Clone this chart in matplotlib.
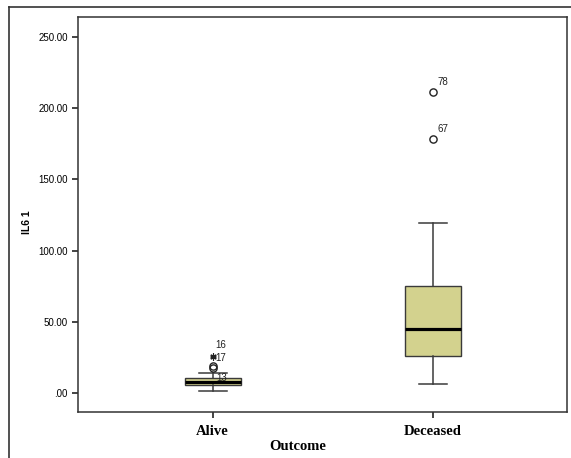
import numpy as np
import matplotlib.pyplot as plt
from matplotlib.lines import Line2D

# data
groups = ['Alive', 'Deceased']
q1 = [5.6, 26.2]
medians = [8.0, 45.2]
q3 = [10.3, 75.3]
whis_lo = [1.4, 6.3]
whis_hi = [14.0, 119.6]

# outliers (circles) and extremes (stars), by group index
mild_group = [0, 0, 1, 1]
mild_vals = [17.4, 19.0, 178.6, 211.2]
mild_labels = ['13', '', '67', '78']
ext_group = [0, 0]
ext_vals = [25.5, 26.0]
ext_labels = ['17', '16']

yticks = [0, 50, 100, 150, 200, 250]

fig = plt.figure(figsize=(5.71, 4.58), dpi=100)
ax = fig.add_axes([0.1366, 0.1004, 0.993 - 0.1366, 0.963 - 0.1004])

pos = np.arange(1, len(groups) + 1)
stats = []
for i in range(len(groups)):
    stats.append(dict(med=medians[i], q1=q1[i], q3=q3[i],
                      whislo=whis_lo[i], whishi=whis_hi[i], fliers=[]))

ax.bxp(stats, positions=pos, widths=0.254, patch_artist=True,
       showfliers=False,
       boxprops=dict(facecolor='#d3d28e', edgecolor='#3a3a3a', linewidth=1.0),
       medianprops=dict(color='black', linewidth=2.3),
       whiskerprops=dict(color='#3a3a3a', linewidth=1.1),
       capprops=dict(color='#3a3a3a', linewidth=1.1))

mx = pos[np.array(mild_group)]
ax.plot(mx, mild_vals, 'o', ms=5.2, mfc='none', mec='#222222', mew=1.0, ls='none')
ex = pos[np.array(ext_group)]
ax.plot(ex, ext_vals, ls='none', marker=(6, 2, 0), ms=4.5, mec='#222222', mew=0.8)

# label offsets in points (label placement, not data)
mild_off = [(3, -9), (0, 0), (3, 5), (3, 5)]
for g, v, lab, off in zip(mild_group, mild_vals, mild_labels, mild_off):
    if lab:
        ax.annotate(lab, (pos[g], v), xytext=off, textcoords='offset points',
                    fontsize=7, family='Liberation Sans', color='#222222')
ext_off = [(2, -3), (2, 6)]
for g, v, lab, off in zip(ext_group, ext_vals, ext_labels, ext_off):
    ax.annotate(lab, (pos[g], v), xytext=off, textcoords='offset points',
                fontsize=7, family='Liberation Sans', color='#222222')

ax.set_xlim(0.389, 2.608)
ax.set_ylim(-13.3, 264)
ax.set_yticks(yticks)
ax.set_yticklabels(['.00' if t == 0 else f'{t:.2f}' for t in yticks],
                   fontsize=7, family='Liberation Sans')
ax.set_xticks(pos)
ax.set_xticklabels(groups, fontsize=10.5, family='Liberation Serif', fontweight='bold')
ax.tick_params(axis='both', direction='out', length=4, width=1.2, color='#222222')
ax.tick_params(axis='x', pad=5)

ax.set_xlabel('Outcome', fontsize=10.5, family='Liberation Serif', fontweight='bold')
ax.xaxis.set_label_coords(0.45, -0.07)
ax.set_ylabel('IL6 1', fontsize=7.5, family='Liberation Sans', fontweight='bold')
ax.yaxis.set_label_coords(-0.094, 0.48)

for s in ax.spines.values():
    s.set_color('#333333')
    s.set_linewidth(1.1)

# outer frame (left and top edges visible)
fig.add_artist(Line2D([9 / 571, 9 / 571], [0, 1 - 7 / 458], color='#333333', lw=1.2))
fig.add_artist(Line2D([9 / 571, 1], [1 - 7 / 458, 1 - 7 / 458], color='#333333', lw=1.2))

fig.savefig('out.png', dpi=100)
